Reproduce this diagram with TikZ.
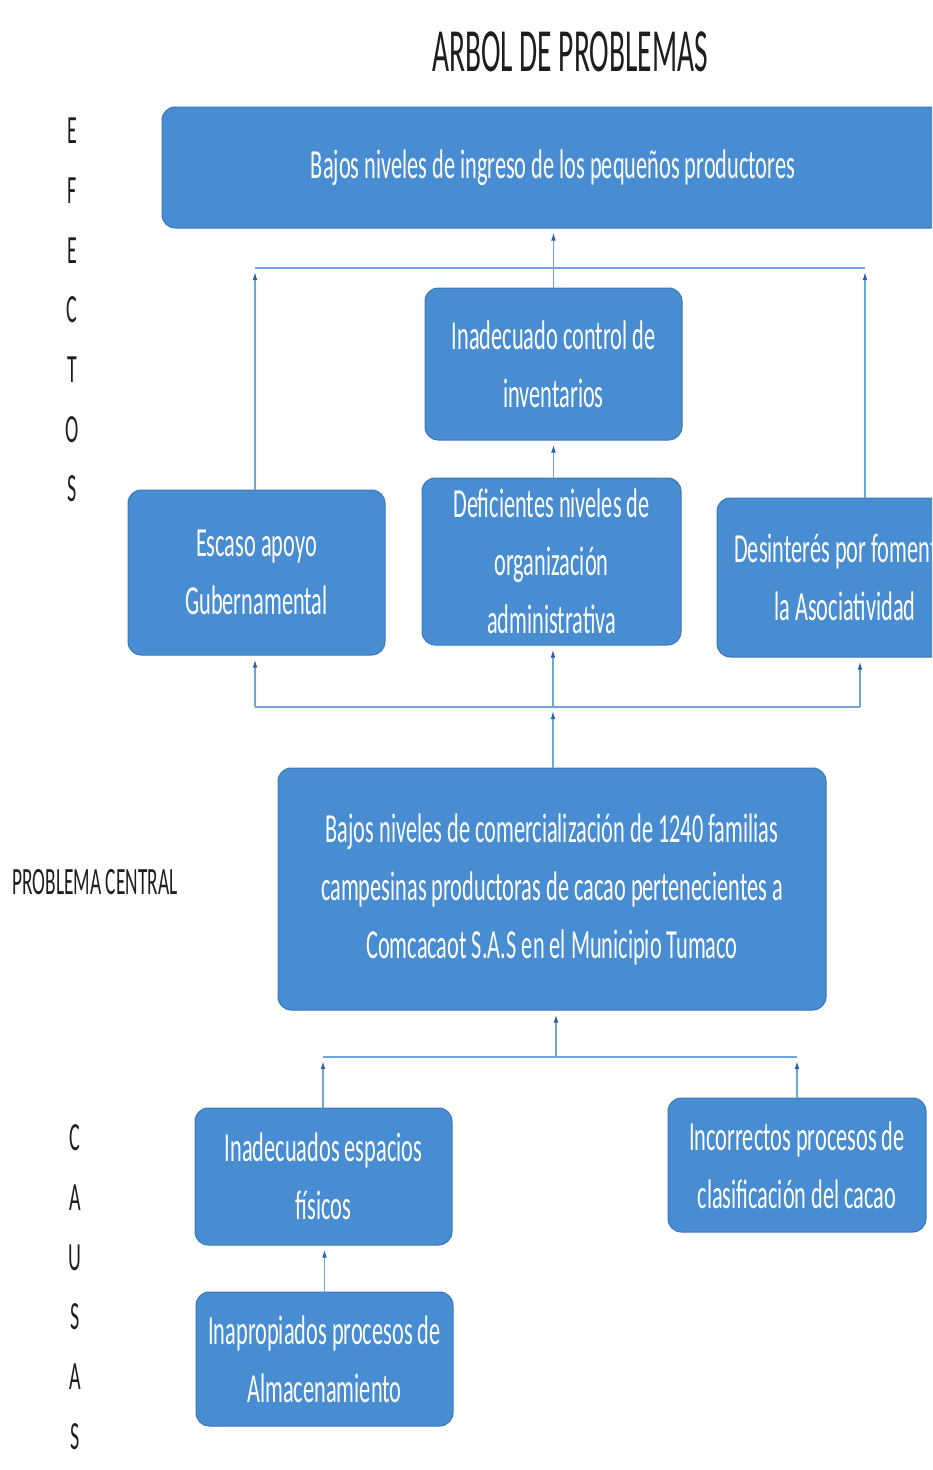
\documentclass[tikz,border=0pt]{standalone}
\usepackage{fontspec}
\setmainfont[FakeStretch=0.54]{Carlito}
\newfontfamily\etiqueta[FakeStretch=0.5]{Carlito}
\newfontfamily\titulofont[FakeStretch=0.48]{Carlito}
\usetikzlibrary{arrows.meta}

\definecolor{cajaazul}{RGB}{72,140,210}
\definecolor{bordeazul}{RGB}{58,120,188}
\definecolor{lineaazul}{RGB}{110,165,220}
\definecolor{puntaazul}{RGB}{45,95,165}
\definecolor{textogris}{RGB}{30,30,30}

\tikzset{every picture/.style={line width=0.75pt},
  caja/.style={draw=bordeazul, fill=cajaazul, rounded corners=10pt, text=white,
    align=center, inner sep=0pt, font=\fontsize{31}{43.5}\selectfont},
  linea/.style={draw=lineaazul, line width=1pt},
  flecha/.style={linea, -{Latex[length=6pt,width=3.5pt,color=puntaazul]}, shorten >=3pt},
  lado/.style={align=center, inner sep=0pt, text=textogris, font=\etiqueta\fontsize{30}{44.75}\selectfont}
}

\begin{document}
\begin{tikzpicture}[x=0.75pt,y=0.75pt,yscale=-1,xscale=1]
\useasboundingbox (0,0) rectangle (932,1470);
\clip (0,0) rectangle (932,1470);

% Text Node
\node (titulo) [text=textogris, inner sep=0pt, font=\titulofont\fontsize{46}{50}\selectfont] at (570,52) {ARBOL DE PROBLEMAS};
\node (efectos) [lado] at (72,310) {E\\F\\E\\C\\T\\O\\S};
\node (pcentral) [lado, font=\etiqueta\fontsize{29}{35}\selectfont] at (95,882) {PROBLEMA CENTRAL};
\node (causas) [lado] at (75,1287) {C\\A\\U\\S\\A\\S};

%Shape: Rounded Rect (efectos)
\node (efecto) [caja, minimum width=586.5pt, minimum height=90.75pt] at (553,167.5) {Bajos niveles de ingreso de los pequeños productores};
\node (inventario) [caja, minimum width=192.75pt, minimum height=114pt] at (553.5,364) {Inadecuado control de\\inventarios};
\node (apoyo) [caja, minimum width=192.75pt, minimum height=123.75pt] at (256.5,572.5) {Escaso apoyo\\Gubernamental};
\node (organiza) [caja, minimum width=194.25pt, minimum height=125.25pt] at (551.5,561.5) {Deficientes niveles de\\organización\\administrativa};
\node (asocia) [caja, minimum width=192pt, minimum height=119.25pt] at (845,577.5) {Desinterés por fomentar\\la Asociatividad};

%Shape: Rounded Rect (problema central)
\node (central) [caja, minimum width=411pt, minimum height=181.5pt] at (552,889) {Bajos niveles de comercialización de 1240 familias\\campesinas productoras de cacao pertenecientes a\\Comcacaot S.A.S en el Municipio Tumaco};

%Shape: Rounded Rect (causas)
\node (espacios) [caja, minimum width=192.75pt, minimum height=102.75pt] at (323.5,1176.5) {Inadecuados espacios\\físicos};
\node (clasifica) [caja, minimum width=193.5pt, minimum height=100.5pt] at (797,1165) {Incorrectos procesos de\\clasificación del cacao};
\node (almacen) [caja, minimum width=192.75pt, minimum height=100.5pt] at (324.5,1359) {Inapropiados procesos de\\Almacenamiento};

% bracket coordinates
\coordinate (efbL) at (255,268);
\coordinate (efbR) at (865,268);
\coordinate (cbL) at (255,707);
\coordinate (cbM) at (553,707);
\coordinate (cbR) at (860,707);
\coordinate (caL) at (323,1057);
\coordinate (caM) at (556,1057);
\coordinate (caR) at (797,1057);

%Straight Lines (efectos)
\draw [linea] (efbL) -- (efbR);
\draw [flecha] (apoyo.north -| efbL) -- (efbL);
\draw [flecha] (asocia.north -| efbR) -- (efbR);
\draw [flecha] (inventario.north) -- (efecto.south -| inventario.north);
\draw [flecha] (inventario.south |- organiza.north) -- (inventario.south);
\draw [linea] (cbL) -- (cbR);
\draw [flecha] (cbL) -- (cbL |- apoyo.south);
\draw [flecha] (cbR) -- (cbR |- asocia.south);
\draw [flecha] (cbM) -- (cbM |- organiza.south);
\draw [flecha] (central.north -| cbM) -- (cbM);

%Straight Lines (causas)
\draw [linea] (caL) -- (caR);
\draw [flecha] (caM) -- (caM |- central.south);
\draw [flecha] (espacios.north -| caL) -- (caL);
\draw [flecha] (clasifica.north -| caR) -- (caR);
\draw [flecha] (almacen.north) -- (almacen.north |- espacios.south);

\end{tikzpicture}
\end{document}
